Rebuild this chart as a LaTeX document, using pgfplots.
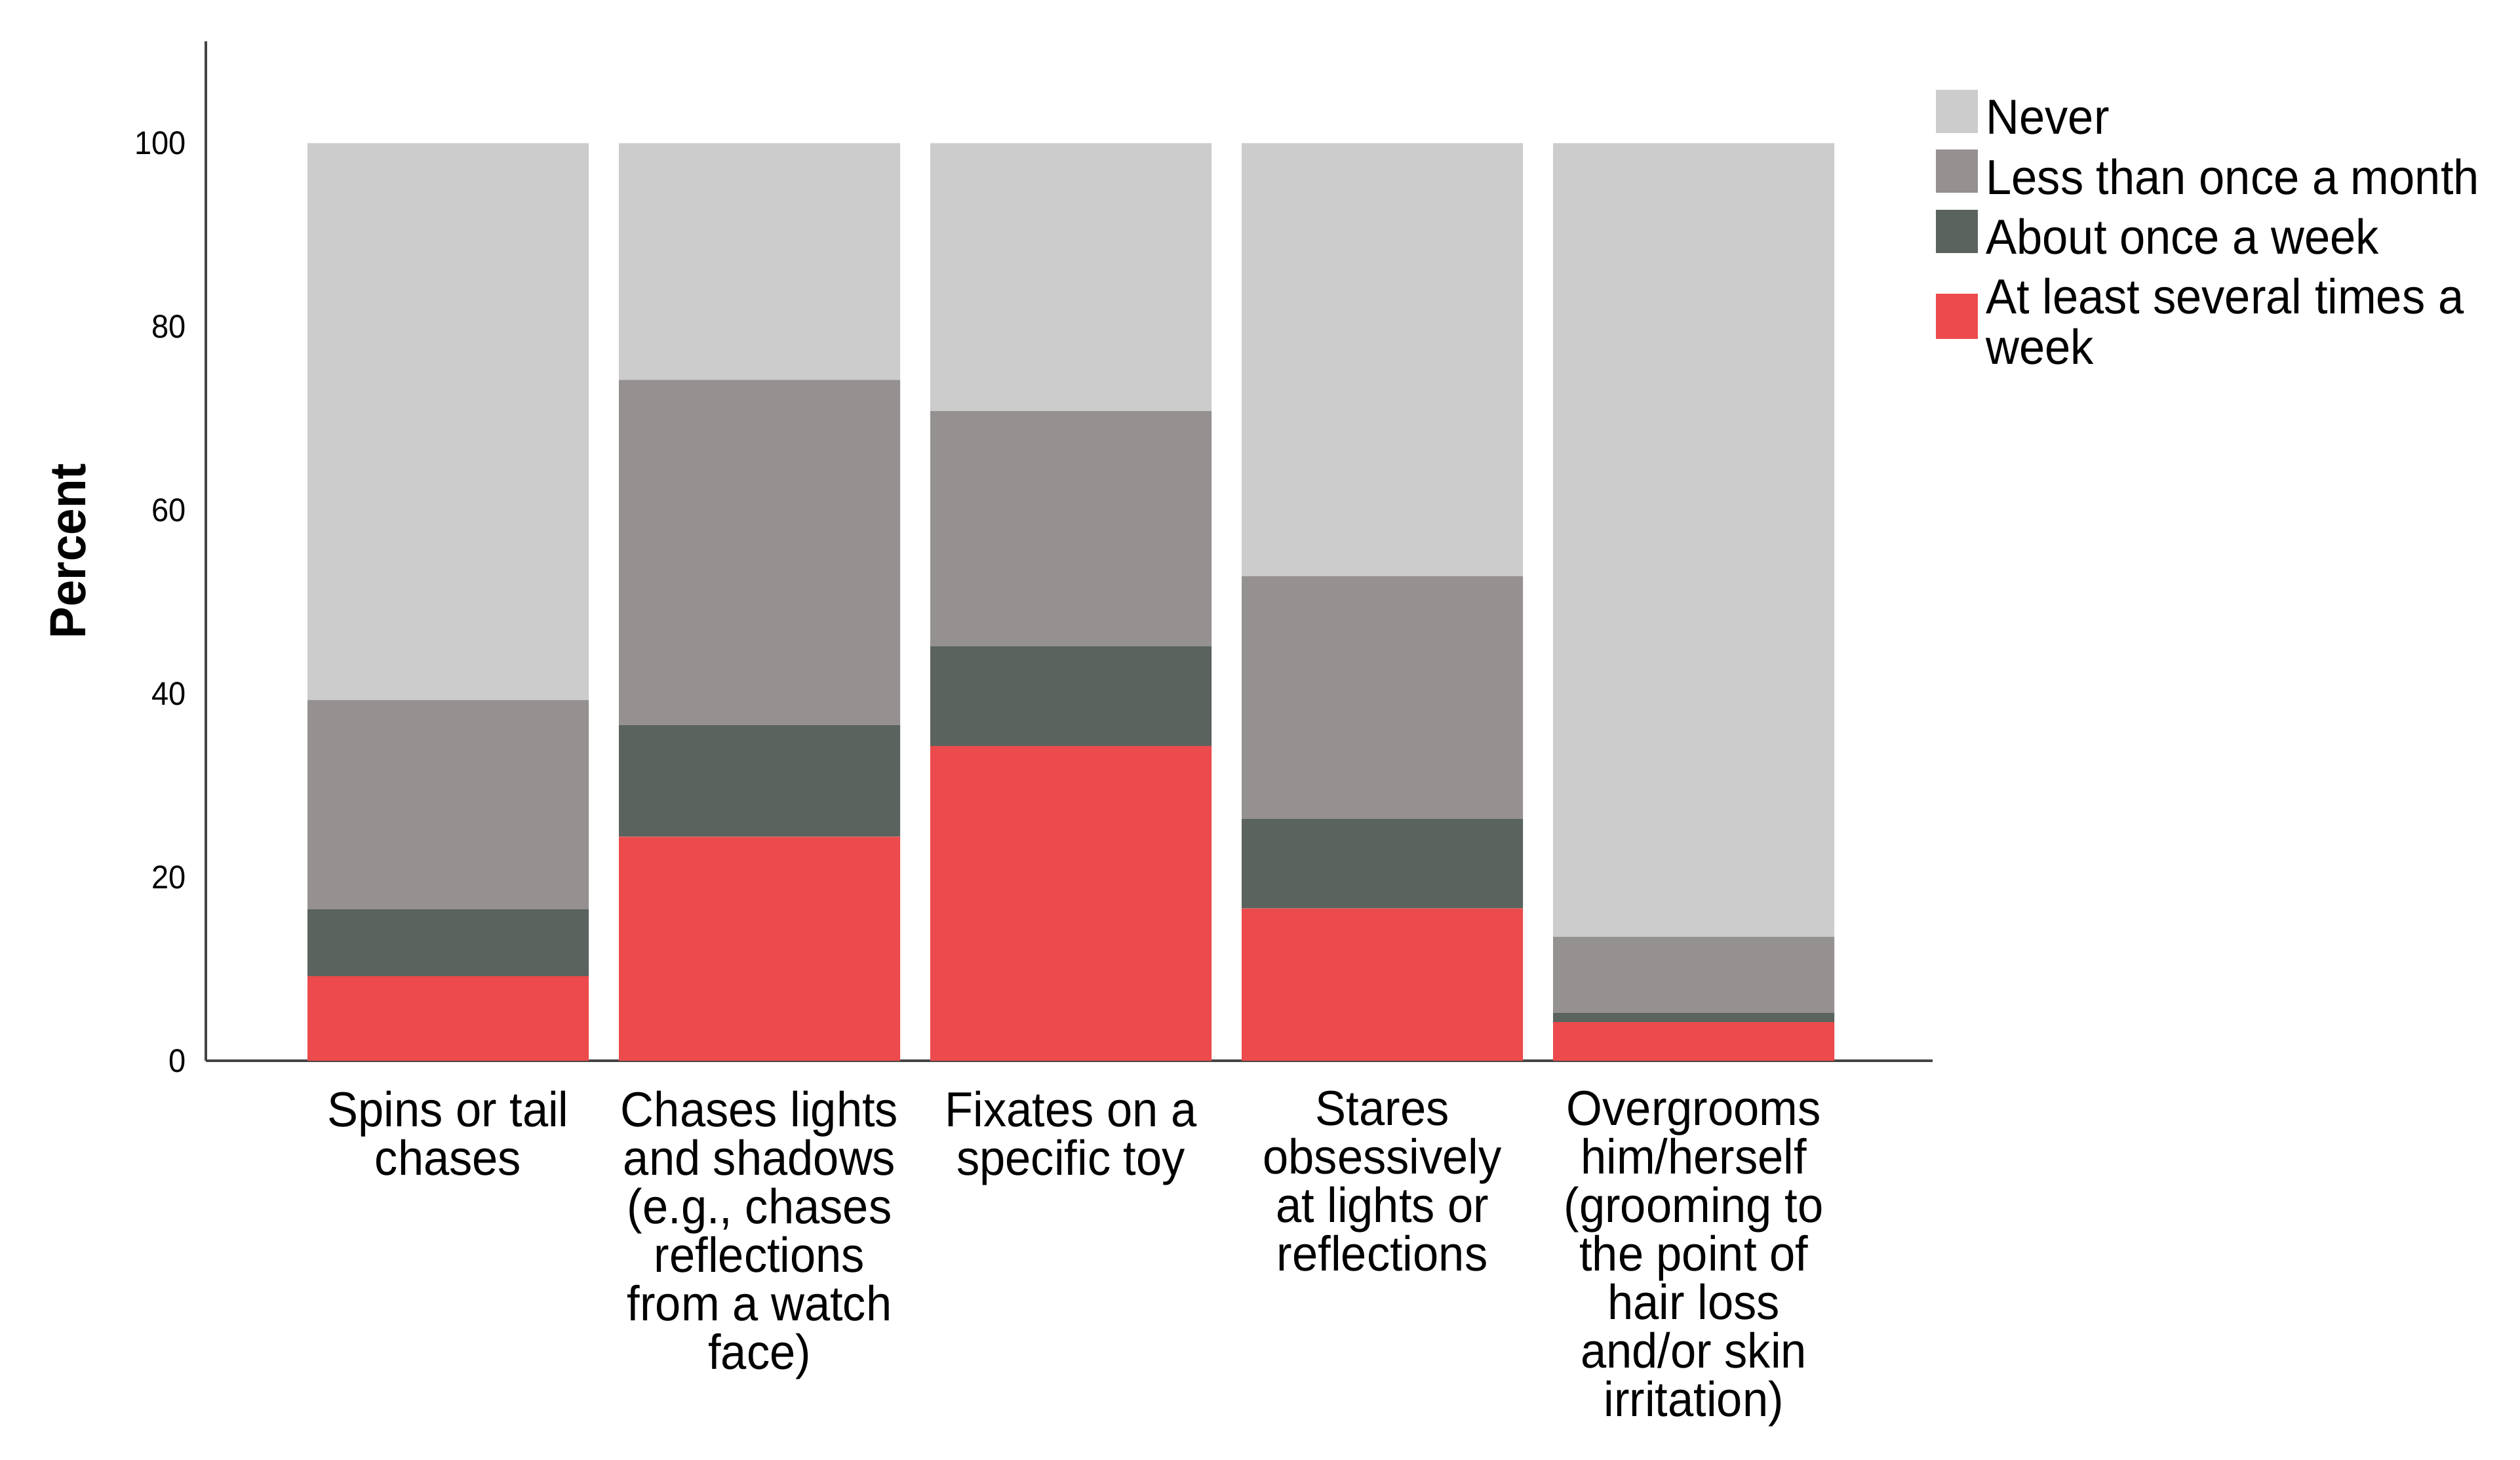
\documentclass[border=0pt]{standalone}
\usepackage{fontspec}
\setmainfont{Liberation Sans}[FakeStretch=0.94]
\usepackage{pgfplots}
\usepackage{pgfplotstable}
\pgfplotsset{compat=1.18}

\definecolor{cNever}{HTML}{CCCCCC}
\definecolor{cLess}{HTML}{959190}
\definecolor{cWeek}{HTML}{5B635E}
\definecolor{cSev}{HTML}{EC4A4C}
\definecolor{axgray}{HTML}{444444}

\pgfplotsset{
  boxlegend/.style={legend image code/.code={\fill[##1] (0pt,-5pt) rectangle (12.8pt,8.2pt);}},
  boxlegendlow/.style={legend image code/.code={\fill[##1] (0pt,-12.97pt) rectangle (12.8pt,0.83pt); \path (0pt,8.2pt);}},
}

% percent of cats per frequency, one row per behaviour
\pgfplotstableread{
x never less week several
0 60.7 22.8 7.3 9.2
1 25.8 37.6 12.2 24.4
2 29.2 25.6 10.9 34.3
3 47.2 26.4 9.8 16.6
4 86.5 8.3 1.0 4.2
}\data

\begin{document}
\begin{tikzpicture}
\path[use as bounding box] (0,0) rectangle (768.8pt,445.2pt);
\begin{axis}[
  at={(62.8pt,121.6pt)}, anchor=south west,
  scale only axis, width=526.8pt, height=311pt,
  ybar stacked, bar width=0.903,
  xmin=-0.778, xmax=4.767, ymin=0, ymax=111.1,
  axis x line*=bottom, axis y line*=left,
  axis line style={draw=axgray, line width=0.9pt, -},
  xtick={0,1,2,3,4},
  xticklabels={{Spins or tail\\chases},
    {Chases lights\\and shadows\\(e.g., chases\\reflections\\from a watch\\face)},
    {Fixates on a\\specific toy},
    {Stares\\obsessively\\at lights or\\reflections},
    {Overgrooms\\him/herself\\(grooming to\\the point of\\hair loss\\and/or skin\\irritation)}},
  ytick={0,20,40,60,80,100},
  xtick style={draw=none}, ytick style={draw=none},
  major tick length=0pt,
  /pgf/number format/assume math mode=true,
  xticklabel style={font=\fontsize{15}{14.8}\selectfont, align=center,
    anchor=north, inner sep=0pt, yshift=-9pt},
  yticklabel style={font=\fontsize{10}{12}\selectfont, anchor=east,
    inner sep=0pt, xshift=-5.8pt},
  ylabel={Percent},
  ylabel style={font=\bfseries\fontsize{15.5}{18}\selectfont,
    at={(axis description cs:-0.0797,0.5)}, anchor=center},
  boxlegend,
  reverse legend,
  legend cell align=left,
  legend style={draw=none, fill=none, inner sep=0pt, outer sep=0pt,
    at={(1.0019,0.9524)}, anchor=north west,
    row sep=4.7pt, column sep=2.5pt,
    font=\fontsize{15}{14.8}\selectfont,
    nodes={inner sep=0pt, text height=10.74pt, text depth=0pt}},
]
\addplot[fill=cSev, draw=none, boxlegendlow] table[x=x, y=several]{\data};
\addlegendentry{\begin{tabular}[t]{@{}l@{}}At least several times a\\week\end{tabular}}
\addplot[fill=cWeek, draw=none] table[x=x, y=week]{\data};
\addlegendentry{About once a week}
\addplot[fill=cLess, draw=none] table[x=x, y=less]{\data};
\addlegendentry{Less than once a month}
\addplot[fill=cNever, draw=none] table[x=x, y=never]{\data};
\addlegendentry{Never}
\end{axis}
\end{tikzpicture}
\end{document}
